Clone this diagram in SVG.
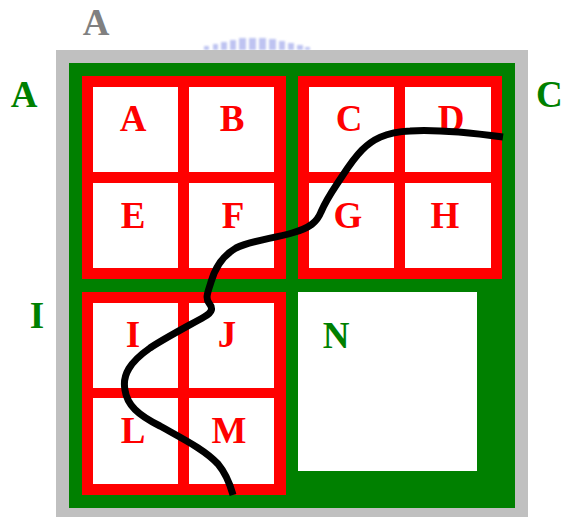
<svg xmlns="http://www.w3.org/2000/svg" width="563" height="517" viewBox="0 0 563 517">
  <defs>
    <filter id="blur" x="-20%" y="-50%" width="140%" height="200%">
      <feGaussianBlur stdDeviation="0.8"/>
    </filter>
  </defs>
  <style>
    .lbl { font-family: "Liberation Serif", "Times New Roman", serif; font-weight: bold; font-size: 37px; text-anchor: middle; }
    .red { fill: #ff0000; }
    .grn { fill: #008000; }
    .gry { fill: #808080; }
    .block { fill: #ff0000; }
    .cell { fill: #ffffff; }
    .wm { fill: #aeb5ee; }
  </style>
  <rect width="563" height="517" fill="#ffffff"/>

  <g id="watermark" filter="url(#blur)" opacity="0.8">
    <rect class="wm" x="204" y="46" width="5" height="4"/>
    <rect class="wm" x="213" y="44" width="5" height="6"/>
    <rect class="wm" x="221" y="42" width="6" height="8"/>
    <rect class="wm" x="230" y="40" width="6" height="10"/>
    <rect class="wm" x="239" y="38" width="7" height="12"/>
    <rect class="wm" x="249" y="38" width="7" height="12"/>
    <rect class="wm" x="259" y="38" width="7" height="12"/>
    <rect class="wm" x="269" y="39" width="7" height="11"/>
    <rect class="wm" x="279" y="41" width="6" height="9"/>
    <rect class="wm" x="288" y="43" width="6" height="7"/>
    <rect class="wm" x="297" y="45" width="6" height="5"/>
    <rect class="wm" x="305" y="47" width="5" height="3"/>
  </g>

  <g id="frame">
    <rect x="56" y="50" width="472" height="467" fill="#c0c0c0"/>
    <rect x="69" y="63" width="446" height="445" fill="#008000"/>
  </g>

  <g id="block-top-left">
    <rect class="block" x="82" y="76" width="204" height="203"/>
    <rect class="cell" x="93" y="87" width="85" height="85"/>
    <rect class="cell" x="189" y="87" width="85" height="85"/>
    <rect class="cell" x="93" y="183" width="85" height="85"/>
    <rect class="cell" x="189" y="183" width="85" height="85"/>
    <text class="lbl red" x="133" y="131">A</text>
    <text class="lbl red" x="232" y="131">B</text>
    <text class="lbl red" x="133" y="227.5">E</text>
    <text class="lbl red" x="233" y="227.5">F</text>
  </g>

  <g id="block-top-right">
    <rect class="block" x="298" y="76" width="204" height="203"/>
    <rect class="cell" x="309" y="87" width="85" height="85"/>
    <rect class="cell" x="405" y="87" width="86" height="85"/>
    <rect class="cell" x="309" y="183" width="85" height="85"/>
    <rect class="cell" x="405" y="183" width="86" height="85"/>
    <text class="lbl red" x="349" y="131">C</text>
    <text class="lbl red" x="451" y="131">D</text>
    <text class="lbl red" x="348" y="227.5">G</text>
    <text class="lbl red" x="445" y="227.5">H</text>
  </g>

  <g id="block-bottom-left">
    <rect class="block" x="82" y="292" width="204" height="203"/>
    <rect class="cell" x="93" y="303" width="85" height="85"/>
    <rect class="cell" x="189" y="303" width="85" height="85"/>
    <rect class="cell" x="93" y="398" width="85" height="86"/>
    <rect class="cell" x="189" y="398" width="85" height="86"/>
    <text class="lbl red" x="133" y="346.5">I</text>
    <text class="lbl red" x="227" y="346.5">J</text>
    <text class="lbl red" x="133" y="442.5">L</text>
    <text class="lbl red" x="229" y="442.5">M</text>
  </g>

  <g id="block-N">
    <rect class="cell" x="298" y="292" width="179" height="179"/>
    <text class="lbl grn" x="336" y="347.5">N</text>
  </g>

  <g id="outer-labels">
    <text class="lbl gry" x="96" y="35">A</text>
    <text class="lbl grn" x="24" y="107">A</text>
    <text class="lbl grn" x="536" y="107" style="text-anchor:start">C</text>
    <text class="lbl grn" x="37" y="328">I</text>
  </g>

  <g id="connectors">
    <path d="M503,137 C480,134 440,129 410,131 C385,132 372,140 362,150 C352,160 345,172 337,184 C329,196 324,205 321,212 C317,222 310,228 292,233 C270,239 250,241 236,248 C222,256 215,268 211,282 C208,292 205,298 209,303 C213,308 213,312 204,317 C190,325 165,338 150,348 C130,362 122,375 125,390 C127,405 138,415 160,426 C185,440 205,450 218,464 C228,476 231,488 233,495" fill="none" stroke="#000000" stroke-width="7"/>
  </g>
</svg>
